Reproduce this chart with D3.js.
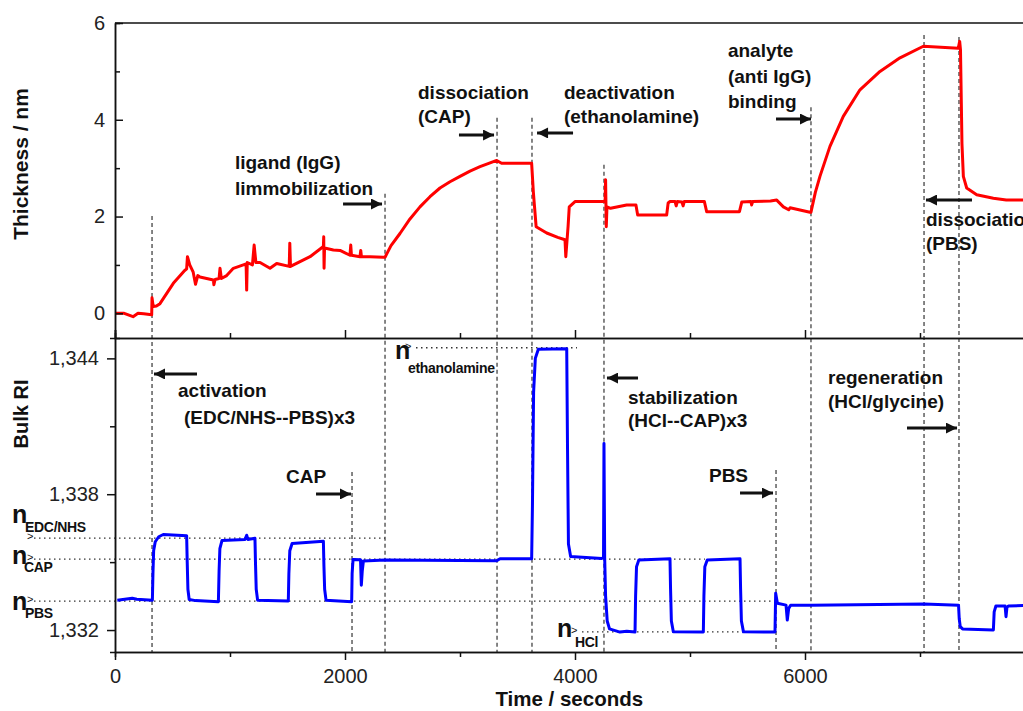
<!DOCTYPE html>
<html>
<head>
<meta charset="utf-8">
<script src="https://cdn.jsdelivr.net/npm/d3@7"></script>
<style>
body { margin: 0; background: #fff; }
svg { font-family: "Liberation Sans", Arial, sans-serif; }
.axis path, .axis line { stroke: #111; stroke-width: 1.5; }
.axis text { font-size: 20px; fill: #222; font-family: "Liberation Sans", Arial, sans-serif; }
.note { font-size: 19px; font-weight: bold; fill: #111; }
.title { font-size: 20.5px; font-weight: bold; fill: #111; }
</style>
</head>
<body>
<svg id="chart" width="1023" height="711"></svg>
<script>
// top panel: layer thickness (nm) vs time (s)
var thickTime = [0, 80, 157, 200, 250, 319, 322, 332, 360, 391, 507, 600, 623, 630, 650, 680, 700, 720, 739, 855, 860, 870, 905, 913, 925, 971, 1029, 1116, 1140, 1145, 1150, 1195, 1210, 1225, 1261, 1348, 1406, 1515, 1520, 1526, 1609, 1696, 1812, 1815, 1818, 1822, 1899, 1957, 2043, 2050, 2056, 2130, 2137, 2143, 2217, 2333, 2348,
    2400, 2478, 2565, 2652, 2739, 2826, 2913, 3000, 3087, 3174, 3250, 3319, 3362, 3623, 3638, 3662, 3754, 3850, 3913, 3920, 3940, 3950, 4000, 4232, 4262, 4266, 4272, 4278, 4309, 4449, 4530, 4545, 4797, 4810, 4826, 4870, 4880, 4890, 4930, 4940, 4950, 5125, 5145, 5430, 5450, 5530, 5536, 5545, 5700, 5754, 5812, 5858, 5870, 6043, 6052,
    6090, 6130, 6217, 6333, 6478, 6652, 6826, 7029, 7333, 7345, 7352, 7365, 7377, 7406, 7493, 7638, 7750, 7900];
var thickValue = [0.0, 0.0, -0.07, 0.0, -0.01, -0.03, 0.32, 0.14, 0.15, 0.2, 0.62, 0.87, 0.92, 1.17, 1.0, 0.85, 0.6, 0.78, 0.75, 0.69, 0.59, 0.7, 0.72, 0.93, 0.72, 0.78, 0.93, 1.0, 1.02, 0.48, 1.05, 1.0, 1.41, 1.05, 1.05, 0.93, 1.03, 0.97, 1.45, 0.97, 1.07, 1.17, 1.38, 1.58, 0.93, 1.35, 1.31, 1.3, 1.2, 1.41, 1.2, 1.17, 1.3, 1.17, 1.17, 1.16, 1.16,
    1.4, 1.65, 1.95, 2.2, 2.41, 2.59, 2.72, 2.83, 2.94, 3.03, 3.1, 3.16, 3.1, 3.1, 2.5, 1.79, 1.66, 1.57, 1.52, 1.17, 1.8, 2.2, 2.31, 2.31, 2.31, 2.76, 1.79, 2.2, 2.17, 2.24, 2.24, 2.03, 2.03, 2.28, 2.31, 2.31, 2.22, 2.31, 2.3, 2.22, 2.31, 2.31, 2.1, 2.1, 2.3, 2.31, 2.24, 2.31, 2.32, 2.34, 2.2, 2.14, 2.18, 2.09, 2.09,
    2.5, 2.83, 3.45, 4.07, 4.62, 5.0, 5.28, 5.52, 5.48, 5.62, 5.45, 3.5, 2.83, 2.59, 2.45, 2.38, 2.34, 2.34];

// bottom panel: bulk refractive index vs time (s)
var riTime = [20, 150, 190, 325, 330, 336, 350, 380, 420, 623, 628, 634, 645, 700, 899, 905, 912, 930, 1130, 1145, 1155, 1217, 1222, 1228, 1240, 1507, 1512, 1520, 1540, 1812, 1817, 1823, 1835, 2058,
    2062, 2070, 2135, 2142, 2150, 2160, 2348, 3319, 3348, 3623, 3630, 3640, 3655, 3681, 3928, 3935, 3943, 3962, 4232, 4248, 4252, 4258, 4266, 4280, 4300, 4391, 4450, 4522,
    4527, 4535, 4555, 4826, 4831, 4838, 4855, 5116, 5121, 5129, 5150, 5435, 5440, 5447, 5465, 5739, 5745, 5760, 5835, 5846, 5858, 5875, 6052, 7035, 7335, 7341, 7350, 7370, 7638, 7645, 7660, 7740, 7748, 7756, 7768, 7900];
var riValue = [1.33332, 1.3334, 1.33336, 1.33332, 1.3345, 1.3355, 1.3359, 1.33612, 1.33622, 1.33616, 1.3350, 1.3338, 1.33335, 1.3333, 1.33325, 1.3346, 1.3356, 1.33595, 1.336, 1.33619, 1.336, 1.33605, 1.3349, 1.3338, 1.33332, 1.33328, 1.3345, 1.3355, 1.33582, 1.33592, 1.3348, 1.3338, 1.33332, 1.33325,
    1.3345, 1.33512, 1.3351, 1.33398, 1.3346, 1.33505, 1.33509, 1.33506, 1.33515, 1.33515, 1.3375, 1.3425, 1.3440, 1.3444, 1.34443, 1.3400, 1.3358, 1.33525, 1.33516, 1.3352, 1.34024, 1.3352, 1.3335, 1.3324, 1.33205, 1.33191, 1.33195, 1.33191,
    1.3335, 1.3348, 1.33509, 1.33515, 1.3338, 1.3324, 1.33192, 1.33191, 1.3335, 1.3348, 1.33509, 1.33515, 1.3338, 1.3324, 1.33192, 1.33191, 1.33362, 1.33318, 1.3331, 1.33244, 1.33295, 1.3331, 1.3331, 1.33315, 1.3331, 1.3325, 1.33215, 1.33205, 1.332, 1.3328, 1.33306, 1.33306, 1.33259, 1.333, 1.33306, 1.33308];

// injection events (dashed lines through both panels) and where they start in the top panel
var eventTime = [322, 2348, 3322, 3626, 4252, 6052, 7035, 7339];
var eventTopThick = [2.01, 2.47, 4.04, 4.04, 3.07, 4.26, 5.75, 5.71];
// events marked in the lower panel only
var bulkEventTime = [2061, 5748];
var bulkEventTopRI = [1.33898, 1.33907];

// reference index levels
var refName = ["EDC/NHS", "CAP", "PBS", "ethanolamine", "HCl"];
var refRI = [1.33606, 1.33513, 1.33328, 1.34447, 1.33192];
var refEnd = [2348, 5130, 5748, 4017, 5748];

var xTicks = [0, 2000, 4000, 6000];
var xMinor = [1000, 3000, 5000, 7000];
var thickTicks = [0, 2, 4, 6];
var thickMinor = [1, 3, 5];
var riTicks = [1.332, 1.338, 1.344];
var riMinor = [1.335, 1.341];

var margin = {left: 115, top: 23, mid: 338, bottom: 652};

var svg = d3.select("#chart");

var x = d3.scaleLinear().domain([0, 8000]).range([margin.left, margin.left + 920]);
var yTop = d3.scaleLinear().domain([-0.51, 6]).range([margin.mid, margin.top]);
var yBot = d3.scaleLinear().domain([1.33103, 1.3449]).range([margin.bottom, margin.mid]);

var riFormat = function(d) { return d3.format(".3f")(d).replace(".", ","); };

// clip areas
var defs = svg.append("defs");
defs.append("clipPath").attr("id", "clipTop").append("rect")
    .attr("x", margin.left).attr("y", margin.top).attr("width", 920).attr("height", margin.mid - margin.top);
defs.append("clipPath").attr("id", "clipBot").append("rect")
    .attr("x", margin.left).attr("y", margin.mid).attr("width", 920).attr("height", margin.bottom - margin.mid);
defs.append("marker").attr("id", "head")
    .attr("viewBox", "0 0 10 10").attr("refX", 10).attr("refY", 5)
    .attr("markerUnits", "userSpaceOnUse").attr("markerWidth", 17).attr("markerHeight", 11)
    .attr("orient", "auto")
    .append("path").attr("d", "M0,0L10,5L0,10Z").attr("fill", "#111");

// dashed event lines
svg.append("g").selectAll("line.ev")
    .data(eventTime)
    .enter().append("line")
    .attr("x1", function(d) { return x(d); })
    .attr("x2", function(d) { return x(d); })
    .attr("y1", function(d, i) { return yTop(eventTopThick[i]); })
    .attr("y2", margin.bottom)
    .attr("stroke", "#222").attr("stroke-width", 1.1).attr("stroke-dasharray", "4,3");

svg.append("g").selectAll("line.bev")
    .data(bulkEventTime)
    .enter().append("line")
    .attr("x1", function(d) { return x(d); })
    .attr("x2", function(d) { return x(d); })
    .attr("y1", function(d, i) { return yBot(bulkEventTopRI[i]); })
    .attr("y2", margin.bottom)
    .attr("stroke", "#222").attr("stroke-width", 1.1).attr("stroke-dasharray", "4,3");

// dotted reference levels with their n labels
var refLayout = [
    {x0: 34, nx: 12, nDy: -15, subX: 25, subDy: -6, gx: 27},
    {x0: 34, nx: 12, nDy: 5, subX: 24, subDy: 13, gx: 27},
    {x0: 34, nx: 12, nDy: 9, subX: 25, subDy: 17, gx: 27},
    {x0: 416, nx: 395, nDy: 11, subX: 408, subDy: 25, gx: 405},
    {x0: 582, nx: 557, nDy: 5, subX: 575, subDy: 15, gx: 571}
];

refName.forEach(function(name, i) {
    var L = refLayout[i];
    var ly = yBot(refRI[i]);
    svg.append("line")
        .attr("x1", L.x0).attr("x2", x(refEnd[i]))
        .attr("y1", ly).attr("y2", ly)
        .attr("stroke", "#333").attr("stroke-width", 1.3).attr("stroke-dasharray", "1.5,3.5");
    svg.append("text").attr("x", L.nx).attr("y", ly + L.nDy)
        .style("font-size", "25px").style("font-weight", "bold").attr("fill", "#111").text("n");
    svg.append("text").attr("x", L.subX).attr("y", ly + L.subDy)
        .style("font-size", "14px").style("font-weight", "bold").attr("fill", "#111")
        .style("letter-spacing", "-0.3px").text(name);
    svg.append("text").attr("x", L.gx).attr("y", ly + 2)
        .style("font-size", "11px").attr("fill", "#111").text(">");
});

// data lines
var thickData = thickTime.map(function(t, i) { return {t: t, v: thickValue[i]}; });
var riData = riTime.map(function(t, i) { return {t: t, v: riValue[i]}; });

svg.append("path")
    .datum(thickData)
    .attr("clip-path", "url(#clipTop)")
    .attr("fill", "none").attr("stroke", "#ff0000").attr("stroke-width", 3).attr("stroke-linejoin", "round")
    .attr("d", d3.line().x(function(d) { return x(d.t); }).y(function(d) { return yTop(d.v); }));

svg.append("path")
    .datum(riData)
    .attr("clip-path", "url(#clipBot)")
    .attr("fill", "none").attr("stroke", "#0000ff").attr("stroke-width", 3).attr("stroke-linejoin", "round")
    .attr("d", d3.line().x(function(d) { return x(d.t); }).y(function(d) { return yBot(d.v); }));

// axes
svg.append("g").attr("class", "axis").attr("transform", "translate(" + margin.left + ",0)")
    .call(d3.axisLeft(yTop).tickValues(thickTicks).tickSizeInner(-8).tickSizeOuter(0).tickPadding(10).tickFormat(d3.format("d")));
svg.append("g").attr("class", "axis").attr("transform", "translate(" + margin.left + ",0)")
    .call(d3.axisLeft(yTop).tickValues(thickMinor).tickSize(-5).tickFormat(""));

svg.append("g").attr("class", "axis").attr("transform", "translate(" + margin.left + ",0)")
    .call(d3.axisLeft(yBot).tickValues(riTicks).tickSizeInner(8).tickSizeOuter(0).tickPadding(8).tickFormat(riFormat));
svg.append("g").attr("class", "axis").attr("transform", "translate(" + margin.left + ",0)")
    .call(d3.axisLeft(yBot).tickValues(riMinor).tickSize(5).tickFormat(""));

svg.append("g").attr("class", "axis").attr("transform", "translate(0," + margin.mid + ")")
    .call(d3.axisTop(x).tickValues(xTicks).tickSize(8).tickFormat(""));
svg.append("g").attr("class", "axis").attr("transform", "translate(0," + margin.mid + ")")
    .call(d3.axisTop(x).tickValues(xMinor).tickSize(5).tickFormat(""));

svg.append("g").attr("class", "axis").attr("transform", "translate(0," + margin.bottom + ")")
    .call(d3.axisBottom(x).tickValues(xTicks).tickSizeInner(8).tickSizeOuter(0).tickPadding(9).tickFormat(d3.format("d")));
svg.append("g").attr("class", "axis").attr("transform", "translate(0," + margin.bottom + ")")
    .call(d3.axisBottom(x).tickValues(xMinor).tickSize(5).tickFormat(""));

svg.append("line")
    .attr("x1", margin.left).attr("x2", 1035).attr("y1", margin.top).attr("y2", margin.top)
    .attr("stroke", "#111").attr("stroke-width", 1.5);

// axis titles
svg.append("text").attr("class", "title")
    .attr("transform", "translate(28,164) rotate(-90)").attr("text-anchor", "middle")
    .style("font-size", "21px").text("Thickness / nm");
svg.append("text").attr("class", "title")
    .attr("transform", "translate(28,414) rotate(-90)").attr("text-anchor", "middle")
    .style("font-size", "20px").text("Bulk RI");
svg.append("text").attr("class", "title")
    .attr("x", x(3950)).attr("y", 706).attr("text-anchor", "middle").text("Time / seconds");

// annotations (placed in data units of each panel)
var notes = [
    {y: yTop, t: 1043, v: 2.983, lines: ["ligand (IgG)", "limmobilization"], lh: 26},
    {y: yTop, t: 2635, v: 4.429, lines: ["dissociation", "(CAP)"], lh: 24},
    {y: yTop, t: 3904, v: 4.429, lines: ["deactivation", "(ethanolamine)"], lh: 24},
    {y: yTop, t: 5330, v: 5.297, lines: ["analyte", "(anti IgG)", "binding"], lh: 25.5},
    {y: yTop, t: 7052, v: 1.805, lines: ["dissociation", "(PBS)"], lh: 24},
    {y: yBot, t: 548, v: 1.34229, lines: ["activation"], lh: 27},
    {y: yBot, t: 600, v: 1.3411, lines: ["(EDC/NHS--PBS)x3"], lh: 27},
    {y: yBot, t: 1487, v: 1.3385, lines: ["CAP"], lh: 24},
    {y: yBot, t: 4461, v: 1.34199, lines: ["stabilization", "(HCl--CAP)x3"], lh: 23},
    {y: yBot, t: 5165, v: 1.33854, lines: ["PBS"], lh: 24},
    {y: yBot, t: 6200, v: 1.34287, lines: ["regeneration", "(HCl/glycine)"], lh: 24}
];

notes.forEach(function(n) {
    var txt = svg.append("text").attr("class", "note");
    n.lines.forEach(function(s, i) {
        txt.append("tspan").attr("x", x(n.t)).attr("y", n.y(n.v) + i * n.lh).text(s);
    });
});

var arrows = [
    {y: yTop, t0: 1983, t1: 2322, v: 2.259},
    {y: yTop, t0: 2991, t1: 3296, v: 3.685},
    {y: yTop, t0: 3983, t1: 3670, v: 3.727},
    {y: yTop, t0: 5748, t1: 6052, v: 4.016},
    {y: yTop, t0: 7452, t1: 7052, v: 2.342},
    {y: yBot, t0: 713, t1: 339, v: 1.34331},
    {y: yBot, t0: 1748, t1: 2052, v: 1.33801},
    {y: yBot, t0: 4548, t1: 4278, v: 1.34313},
    {y: yBot, t0: 5435, t1: 5722, v: 1.33805},
    {y: yBot, t0: 6887, t1: 7322, v: 1.34092}
];

svg.append("g").selectAll("line")
    .data(arrows)
    .enter().append("line")
    .attr("x1", function(d) { return x(d.t0); })
    .attr("x2", function(d) { return x(d.t1); })
    .attr("y1", function(d) { return d.y(d.v); })
    .attr("y2", function(d) { return d.y(d.v); })
    .attr("stroke", "#111").attr("stroke-width", 3)
    .attr("marker-end", "url(#head)");
</script>
</body>
</html>
